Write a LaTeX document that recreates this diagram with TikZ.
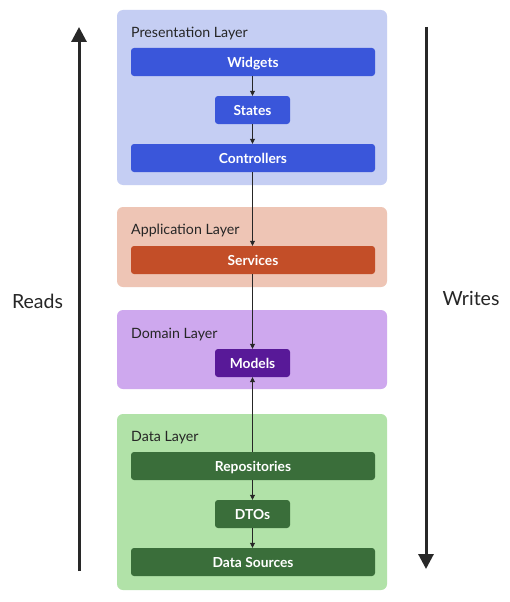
\documentclass[tikz,border=0pt]{standalone}
\usepackage{fontspec}
\setmainfont{Lato}
\usetikzlibrary{arrows.meta}
\definecolor{presbg}{RGB}{197,206,243}
\definecolor{presfg}{RGB}{58,86,218}
\definecolor{appbg}{RGB}{238,197,181}
\definecolor{appfg}{RGB}{195,78,40}
\definecolor{dombg}{RGB}{206,168,238}
\definecolor{domfg}{RGB}{88,25,152}
\definecolor{databg}{RGB}{177,226,168}
\definecolor{datafg}{RGB}{58,110,58}
\definecolor{axis}{RGB}{40,40,40}
\begin{document}
\begin{tikzpicture}[x=1pt,y=-1pt,
  layer/.style={rounded corners=6pt, draw=none},
  title/.style={anchor=west, font=\fontsize{14.2}{16}\selectfont, text=black!85, inner sep=0pt},
  wide/.style={rounded corners=3pt, minimum width=244pt, minimum height=28pt, inner sep=0pt, text=white, font=\fontsize{13.8}{16}\selectfont\bfseries, text height=12pt, text depth=2pt},
  narrow/.style={wide, minimum width=75pt},
  link/.style={draw=black!85, line width=0.8pt, -{Triangle[length=5pt,width=5pt]}},
  bigarrow/.style={draw=axis, line width=3pt, -{Triangle[length=15pt,width=15pt]}},
  side/.style={font=\fontsize{19.5}{22}\selectfont, text=black!85, inner sep=0pt}
]
\useasboundingbox (0,0) rectangle (510,602);
\fill[white] (0,0) rectangle (510,602);

% layers
\fill[presbg, layer] (117,10) rectangle (387,185);
\fill[appbg, layer] (117,207) rectangle (387,287);
\fill[dombg, layer] (117,310) rectangle (387,389);
\fill[databg, layer] (117,414) rectangle (387,590);

\node[title] (tpres) at (131,33.5) {Presentation Layer};
\node[title] (tapp) at (131,230.5) {Application Layer};
\node[title] (tdom) at (131,334.5) {Domain Layer};
\node[title] (tdata) at (131,437.5) {Data Layer};

% components
\node[wide, fill=presfg] (widgets) at (253,62) {Widgets};
\node[narrow, fill=presfg] (states) at (252.5,110) {States};
\node[wide, fill=presfg] (controllers) at (253,158) {Controllers};
\node[wide, fill=appfg] (services) at (253,260) {Services};
\node[narrow, fill=domfg] (models) at (252.5,363) {Models};
\node[wide, fill=datafg] (repos) at (253,466) {Repositories};
\node[narrow, fill=datafg] (dtos) at (252.5,514) {DTOs};
\node[wide, fill=datafg] (sources) at (253,562) {Data Sources};

% connectors
\draw[link] (widgets.south -| states) -- (states.north);
\draw[link] (states.south) -- (controllers.north -| states);
\draw[link] (controllers.south -| states) -- (services.north -| states);
\draw[link] (services.south -| states) -- (models.north);
\draw[link] (repos.north -| models) -- (models.south);
\draw[link] (repos.south -| dtos) -- (dtos.north);
\draw[link] (dtos.south) -- (sources.north -| dtos);

% side arrows
\coordinate (rb) at (79,571);
\coordinate (rt) at (79,27);
\coordinate (wt) at (426,27);
\coordinate (wb) at (426,569);
\draw[bigarrow] (rb) -- (rt);
\draw[bigarrow] (wt) -- (wb);
\node[side] (reads) at (37.5,301) {Reads};
\node[side] (writes) at (471,298) {Writes};
\end{tikzpicture}
\end{document}
